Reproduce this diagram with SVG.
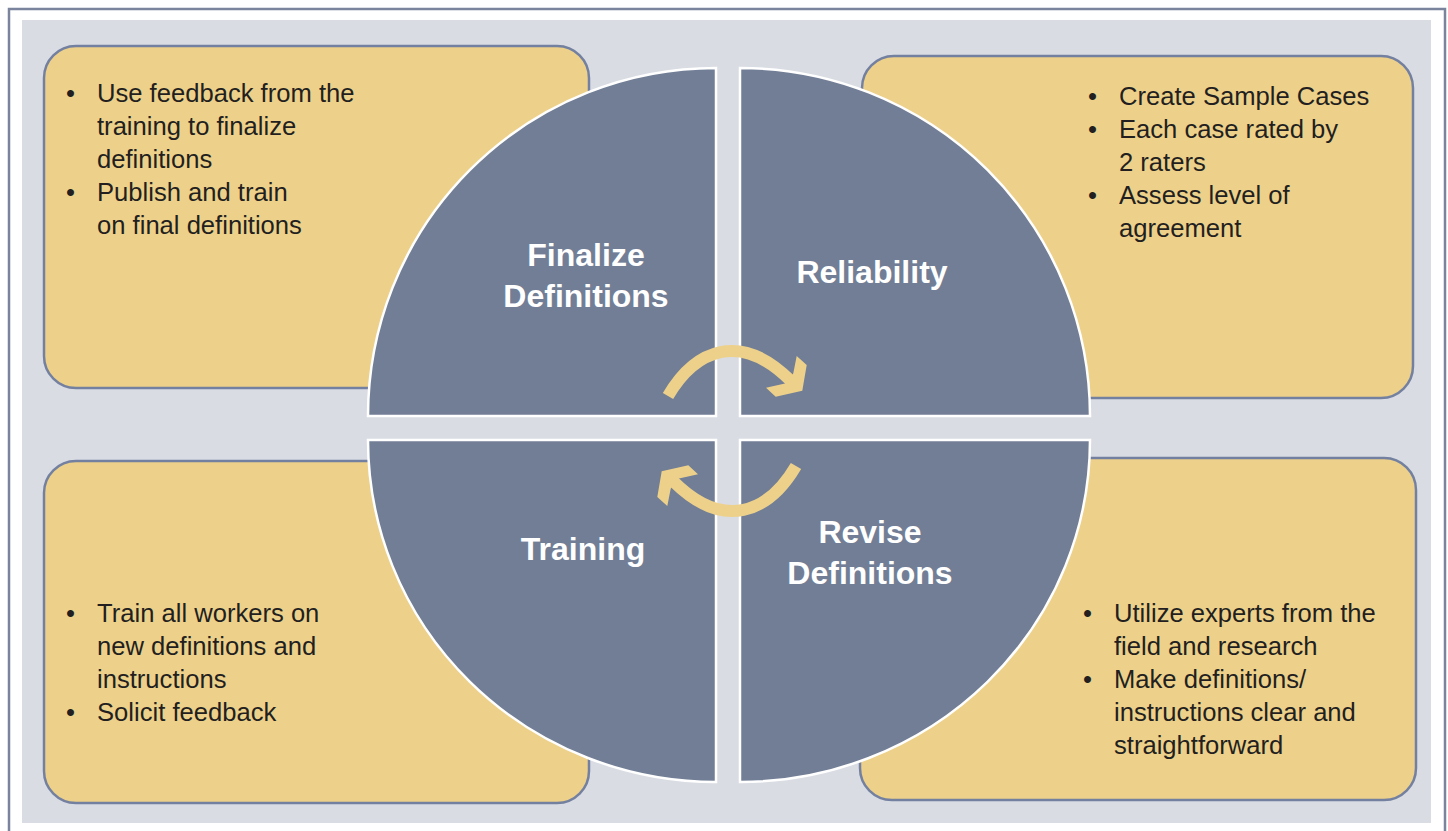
<svg xmlns="http://www.w3.org/2000/svg" width="1448" height="831" viewBox="0 0 1448 831">
<style>
.box{fill:#edd18a;stroke:#7480a0;stroke-width:2.5}
.q{fill:#717e96;stroke:#ffffff;stroke-width:2.5}
.t{font-family:"Liberation Sans",Arial,sans-serif;font-size:25.6px;fill:#231f20}
.h{font-family:"Liberation Sans",Arial,sans-serif;font-size:32px;font-weight:bold;fill:#ffffff;text-anchor:middle}
.arr{fill:none;stroke:#edd18a;stroke-width:12}
.ah{fill:#edd18a}
</style>
<rect x="0" y="0" width="1448" height="831" fill="#ffffff"/>
<path d="M9,831 V9 H1445 V831" fill="none" stroke="#7a849c" stroke-width="2.5"/>
<rect x="22" y="20" width="1409" height="803" fill="#d9dce3"/>

<g id="box-finalize">
<rect class="box" x="44" y="46" width="545" height="342" rx="32"/>
<text class="t"><tspan x="66" y="102">•</tspan><tspan x="97" y="102">Use feedback from the</tspan><tspan x="97" y="135">training to finalize</tspan><tspan x="97" y="168">definitions</tspan><tspan x="66" y="201">•</tspan><tspan x="97" y="201">Publish and train</tspan><tspan x="97" y="234">on final definitions</tspan></text>
</g>
<g id="box-reliability">
<rect class="box" x="862" y="56" width="551" height="342" rx="32"/>
<text class="t"><tspan x="1088" y="105">•</tspan><tspan x="1119" y="105">Create Sample Cases</tspan><tspan x="1088" y="138">•</tspan><tspan x="1119" y="138">Each case rated by</tspan><tspan x="1119" y="171">2 raters</tspan><tspan x="1088" y="204">•</tspan><tspan x="1119" y="204">Assess level of</tspan><tspan x="1119" y="237">agreement</tspan></text>
</g>
<g id="box-training">
<rect class="box" x="44" y="461" width="545" height="342" rx="32"/>
<text class="t"><tspan x="66" y="622">•</tspan><tspan x="97" y="622">Train all workers on</tspan><tspan x="97" y="655">new definitions and</tspan><tspan x="97" y="688">instructions</tspan><tspan x="66" y="721">•</tspan><tspan x="97" y="721">Solicit feedback</tspan></text>
</g>
<g id="box-revise">
<rect class="box" x="860" y="458" width="556" height="342" rx="32"/>
<text class="t"><tspan x="1083" y="622">•</tspan><tspan x="1114" y="622">Utilize experts from the</tspan><tspan x="1114" y="655">field and research</tspan><tspan x="1083" y="688">•</tspan><tspan x="1114" y="688">Make definitions/</tspan><tspan x="1114" y="721">instructions clear and</tspan><tspan x="1114" y="754">straightforward</tspan></text>
</g>

<g id="q-finalize">
<path class="q" d="M716,416 L368,416 A348,348 0 0 1 716,68 Z"/>
<text class="h"><tspan x="586" y="266">Finalize</tspan><tspan x="586" y="307">Definitions</tspan></text>
</g>
<g id="q-reliability">
<path class="q" d="M740,416 L740,68 A350,348 0 0 1 1090,416 Z"/>
<text class="h" x="872" y="283">Reliability</text>
</g>
<g id="q-training">
<path class="q" d="M716,440 L716,782 A348,342 0 0 1 368,440 Z"/>
<text class="h" x="583" y="560">Training</text>
</g>
<g id="q-revise">
<path class="q" d="M740,440 L1090,440 A350,342 0 0 1 740,782 Z"/>
<text class="h"><tspan x="870" y="543">Revise</tspan><tspan x="870" y="584">Definitions</tspan></text>
</g>

<g id="connectors">
<g id="arrow-top">
<path class="arr" d="M668,396 C695,350 740,330 791,381"/>
<polygon class="ah" points="796.7,356 806.7,365 802.3,390.7 775.7,396.7 766,387.7 788.3,382.7 793.3,373.3"/>
</g>
<g id="arrow-bottom" transform="rotate(180 732 431)">
<path class="arr" d="M668,396 C695,350 740,330 791,381"/>
<polygon class="ah" points="796.7,356 806.7,365 802.3,390.7 775.7,396.7 766,387.7 788.3,382.7 793.3,373.3"/>
</g>
</g>
</svg>
